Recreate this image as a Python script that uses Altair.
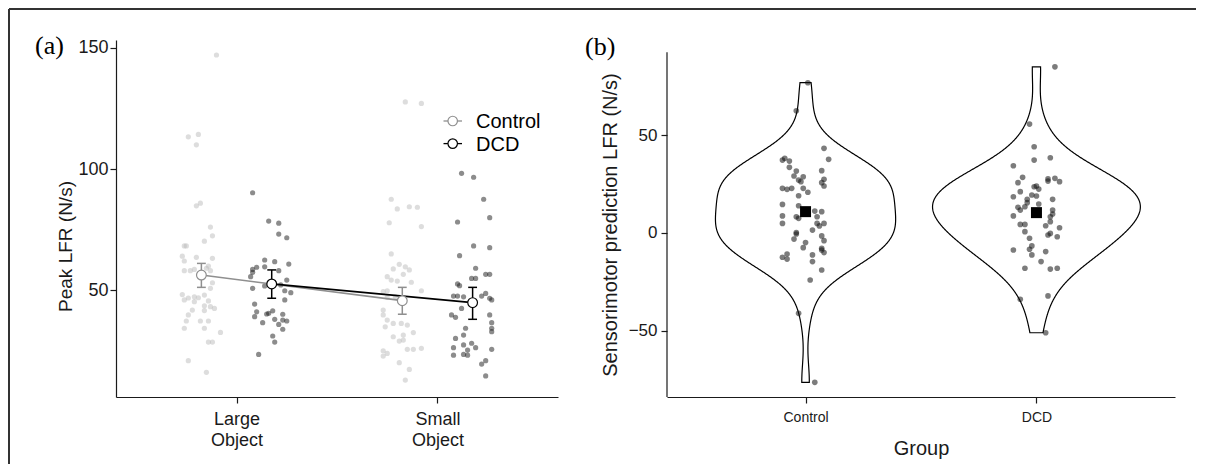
import altair as alt
import pandas as pd

FONT = "Liberation Sans"
AXC = "#1a1a1a"

# ---------------- Panel (a): Peak LFR by object size ----------------
groups = ["Control", "DCD"]
conditions = [1, 2]  # 1 = Large Object, 2 = Small Object

ctrl_large_jit = [-0.10, -0.24, -0.19, -0.20, -0.20, -0.18, -0.13, -0.12, -0.16, -0.26, -0.25, -0.27, -0.20, -0.26, -0.12,
                  -0.14, -0.15, -0.13, -0.26, -0.23, -0.21, -0.12, -0.13, -0.27, -0.24, -0.26, -0.21, -0.19, -0.16, -0.14,
                  -0.21, -0.16, -0.13, -0.11, -0.22, -0.16, -0.24, -0.25, -0.18, -0.14, -0.26, -0.16, -0.08, -0.14, -0.12,
                  -0.24, -0.15]
ctrl_large_val = [147.1, 113.3, 114.3, 110.0, 84.8, 85.9, 76.0, 72.4, 70.2, 68.2, 68.2, 64.0, 63.5, 62.0, 63.1,
                  59.9, 59.0, 58.0, 58.0, 58.0, 58.5, 53.0, 50.7, 48.1, 46.7, 45.9, 47.2, 46.8, 47.9, 45.5,
                  45.2, 43.5, 43.1, 42.4, 41.7, 41.5, 39.7, 37.2, 37.2, 37.2, 34.2, 34.2, 32.5, 28.5, 28.5,
                  20.8, 16.0]

dcd_large_jit = [0.08, 0.16, 0.21, 0.21, 0.25, 0.14, 0.19, 0.26, 0.10, 0.08, 0.08, 0.07, 0.14, 0.21, 0.08,
                 0.14, 0.25, 0.22, 0.27, 0.24, 0.09, 0.24, 0.10, 0.09, 0.16, 0.18, 0.15, 0.23, 0.19, 0.23,
                 0.25, 0.21, 0.13, 0.23, 0.18, 0.19, 0.11]
dcd_large_val = [90.2, 78.5, 77.6, 73.1, 71.6, 62.4, 61.7, 60.7, 59.4, 58.5, 57.3, 55.5, 59.6, 58.0, 50.7,
                 51.7, 54.1, 52.1, 48.9, 49.7, 44.2, 45.9, 41.0, 39.0, 40.4, 41.4, 40.1, 40.0, 37.9, 37.6,
                 37.2, 35.8, 36.5, 33.8, 31.0, 28.5, 23.4]

ctrl_small_jit = [-0.16, -0.08, -0.23, -0.20, -0.14, -0.10, -0.24, -0.08, -0.23, -0.19, -0.16, -0.22, -0.14, -0.17, -0.25,
                  -0.23, -0.13, -0.20, -0.27, -0.25, -0.08, -0.25, -0.21, -0.27, -0.27, -0.25, -0.18, -0.15, -0.22, -0.26,
                  -0.12, -0.17, -0.22, -0.19, -0.17, -0.15, -0.12, -0.08, -0.27, -0.25, -0.27, -0.19, -0.14, -0.16]
ctrl_small_val = [127.7, 127.1, 87.5, 83.5, 84.4, 84.2, 77.8, 76.2, 64.9, 60.6, 59.6, 58.7, 58.3, 56.5, 55.5,
                  54.1, 53.2, 53.7, 49.3, 49.7, 49.7, 47.0, 47.2, 41.7, 39.7, 37.6, 36.2, 35.5, 36.2, 34.8,
                  32.4, 31.4, 30.7, 28.9, 29.3, 25.5, 25.5, 25.9, 24.9, 23.8, 22.7, 20.0, 17.2, 12.8]

dcd_small_jit = [0.12, 0.18, 0.23, 0.10, 0.26, 0.18, 0.26, 0.11, 0.19, 0.17, 0.19, 0.24, 0.26, 0.10, 0.11,
                 0.08, 0.10, 0.13, 0.22, 0.24, 0.26, 0.27, 0.12, 0.07, 0.09, 0.26, 0.27, 0.27, 0.27, 0.14,
                 0.13, 0.09, 0.17, 0.08, 0.13, 0.15, 0.19, 0.15, 0.13, 0.08, 0.27, 0.24, 0.22, 0.24]
dcd_small_val = [98.2, 96.6, 87.5, 78.1, 79.9, 68.2, 67.5, 64.2, 59.0, 54.8, 54.8, 56.5, 56.5, 52.5, 51.8,
                 47.5, 47.5, 47.2, 47.5, 48.6, 46.6, 45.9, 42.4, 39.7, 38.7, 39.7, 36.5, 34.2, 32.8, 34.2,
                 31.4, 30.0, 28.0, 26.2, 27.3, 25.2, 26.2, 23.1, 23.4, 23.1, 25.5, 20.8, 19.4, 14.5]

mean_group = ["Control", "DCD", "Control", "DCD"]
mean_cond = [1, 1, 2, 2]
mean_val = [56.2, 52.5, 45.6, 44.8]
ci_lo = [51.1, 46.6, 40.0, 37.9]
ci_hi = [61.0, 58.3, 51.1, 51.1]

# ---------------- Panel (b): sensorimotor prediction ----------------
b_ctrl_jit = [0.01, -0.04, 0.08, 0.10, -0.10, -0.09, -0.07, -0.07, -0.04, 0.07, -0.05, -0.01, -0.03, -0.02, 0.08,
              0.07, 0.08, -0.10, -0.08, -0.06, -0.01, 0.01, -0.03, -0.10, -0.03, -0.10, -0.10, -0.04, -0.03, 0.04,
              0.05, 0.07, 0.05, 0.08, 0.03, 0.06, -0.04, -0.04, 0.07, 0.08, -0.05, 0.00, -0.01, 0.07, 0.08,
              0.07, -0.10, -0.08, -0.08, 0.03, 0.03, 0.07, 0.02, -0.03, 0.04]
b_ctrl_val = [76.7, 62.4, 43.2, 37.6, 37.2, 38.1, 36.7, 33.5, 31.6, 31.8, 29.1, 28.7, 27.0, 26.2, 27.4,
              25.7, 24.0, 22.8, 22.3, 22.8, 22.8, 20.8, 19.0, 14.6, 13.9, 8.7, 4.9, 8.3, 7.5, 11.2,
              8.3, 10.9, 4.9, 4.9, 1.5, 3.6, 0.2, -0.5, -1.5, -3.9, -3.1, -4.9, -7.5, -7.8, -10.0,
              -8.7, -12.4, -10.7, -13.3, -11.2, -14.6, -18.9, -24.0, -41.0, -76.2]

b_dcd_jit = [0.08, -0.03, -0.01, -0.01, 0.06, -0.10, -0.06, -0.08, 0.05, 0.05, 0.08, 0.10, -0.01, 0.00, 0.01,
             -0.07, -0.10, -0.02, 0.00, -0.04, 0.07, 0.01, -0.04, -0.08, -0.07, -0.05, 0.07, 0.07, 0.06, -0.10,
             -0.07, -0.05, 0.06, 0.04, 0.10, -0.05, 0.06, 0.05, 0.09, -0.03, -0.02, -0.03, -0.02, -0.10, 0.04,
             0.02, -0.05, 0.06, 0.09, -0.07, 0.05, 0.04]
b_dcd_val = [84.8, 55.6, 44.0, 37.2, 38.4, 34.3, 28.4, 25.7, 27.6, 26.5, 27.9, 26.2, 23.6, 24.0, 22.4,
             21.1, 18.5, 19.4, 18.9, 17.2, 17.2, 14.8, 15.5, 13.1, 11.7, 13.4, 11.7, 9.7, 8.3, 8.7,
             4.4, 4.4, 5.8, 3.7, 2.7, 0.7, -0.2, -1.0, -1.9, -2.7, -6.6, -8.3, -11.2, -8.7, -9.5,
             -14.6, -18.0, -18.4, -18.0, -33.8, -32.1, -50.9]

b_mean_group = ["Control", "DCD"]
b_mean_val = [10.9, 10.4]

# ---------------- tables ----------------
rows = []
for g, c, js, vs in [("Control", 1, ctrl_large_jit, ctrl_large_val), ("DCD", 1, dcd_large_jit, dcd_large_val),
                     ("Control", 2, ctrl_small_jit, ctrl_small_val), ("DCD", 2, dcd_small_jit, dcd_small_val)]:
    for j, v in zip(js, vs):
        rows.append({"pg": g, "cond": c, "jit": j, "val": v})
pa_pts = pd.DataFrame(rows)
pa_means = pd.DataFrame({"grp": mean_group, "cond": mean_cond, "val": mean_val, "lo": ci_lo, "hi": ci_hi})
leg_df = pd.DataFrame({"grp": groups})

rows = []
for g, gx, js, vs in [("Control", 1, b_ctrl_jit, b_ctrl_val), ("DCD", 2, b_dcd_jit, b_dcd_val)]:
    for j, v in zip(js, vs):
        rows.append({"grp": g, "gx": gx, "jit": j, "val": v})
pb_pts = pd.DataFrame(rows)
pb_means = pd.DataFrame({"grp": b_mean_group, "gx": [1, 2], "val": b_mean_val})
one = pd.DataFrame({"k": [0]})

# ---------------- panel (a) ----------------
xs_a = alt.Scale(domain=[0.4, 2.6], nice=False, zero=False)
ys_a = alt.Scale(domain=[5.8, 153.3], nice=False, zero=False)
x_axis_a = alt.Axis(values=[1, 2], grid=False, title=None, tickSize=6, labelPadding=7, labelFontSize=18,
                    labelLineHeight=21.5,
                    labelExpr="datum.value == 1 ? ['Large', 'Object'] : ['Small', 'Object']")
y_axis_a = alt.Axis(values=[50, 100, 150], grid=False, tickSize=6, labelPadding=2, labelFontSize=18,
                    titleFontSize=19, titlePadding=2, titleY=206)
stroke_scale = alt.Scale(domain=groups, range=["#8f8f8f", "#000000"])
stroke_enc = alt.Stroke("grp:N", scale=stroke_scale, legend=None)

pts_a = alt.Chart(pa_pts).transform_calculate(xp="datum.cond + datum.jit").mark_circle(
    size=27, opacity=0.5).encode(
    x=alt.X("xp:Q", scale=xs_a, axis=x_axis_a),
    y=alt.Y("val:Q", scale=ys_a, axis=y_axis_a, title="Peak LFR (N/s)"),
    fill=alt.Fill("pg:N", scale=alt.Scale(domain=groups, range=["#bbbbbb", "#1a1a1a"]), legend=None),
)

mbase = alt.Chart(pa_means).transform_calculate(
    xm="datum.cond + (datum.grp == 'Control' ? -0.175 : 0.175)",
    xl="datum.cond + (datum.grp == 'Control' ? -0.175 : 0.175) - 0.022",
    xr="datum.cond + (datum.grp == 'Control' ? -0.175 : 0.175) + 0.022",
)
lines_a = mbase.mark_line(strokeWidth=1.7).encode(x="xm:Q", y="val:Q", stroke=stroke_enc, detail="grp:N")
err_a = mbase.mark_rule(strokeWidth=1.5).encode(x="xm:Q", y="lo:Q", y2="hi:Q", stroke=stroke_enc)
caphi_a = mbase.mark_rule(strokeWidth=1.5).encode(x="xl:Q", x2="xr:Q", y="hi:Q", stroke=stroke_enc)
caplo_a = mbase.mark_rule(strokeWidth=1.5).encode(x="xl:Q", x2="xr:Q", y="lo:Q", stroke=stroke_enc)
mpts_a = mbase.mark_circle(size=95, fill="white", opacity=1, strokeWidth=1.2).encode(
    x="xm:Q", y="val:Q", stroke=stroke_enc)

# legend (line + open circle + label), one row per group
legend_layers = []
for i, g in enumerate(groups):
    yc = 81 + i * 22.6
    ldf = alt.Chart(leg_df).transform_filter(alt.datum.grp == g)
    legend_layers += [
        ldf.mark_rule(strokeWidth=1.3).encode(x=alt.value(327.5), x2=alt.value(332), y=alt.value(yc), stroke=stroke_enc),
        ldf.mark_rule(strokeWidth=1.3).encode(x=alt.value(341.5), x2=alt.value(346), y=alt.value(yc), stroke=stroke_enc),
        ldf.mark_circle(size=90, fill="white", opacity=1, strokeWidth=1.2).encode(
            x=alt.value(336.7), y=alt.value(yc), stroke=stroke_enc),
        ldf.mark_text(align="left", baseline="middle", font=FONT, fontSize=20, color="black").encode(
            x=alt.value(360), y=alt.value(yc + 1), text="grp:N"),
    ]

frame_top = alt.Chart(one).mark_rule(color="#333333", strokeWidth=2).encode(
    x=alt.value(-107), x2=alt.value(1080), y=alt.value(-31))
frame_left = alt.Chart(one).mark_rule(color="#333333", strokeWidth=2).encode(
    x=alt.value(-107), y=alt.value(-31), y2=alt.value(424))
lab_a = alt.Chart(one).mark_text(text="(a)", font="Liberation Serif", fontSize=26, align="left",
                                 baseline="alphabetic", color="black").encode(x=alt.value(-81), y=alt.value(14))

panel_a = alt.layer(pts_a, lines_a, err_a, caphi_a, caplo_a, mpts_a, *legend_layers,
                    frame_top, frame_left, lab_a).properties(width=442, height=357)

# ---------------- panel (b) ----------------
xs_b = alt.Scale(domain=[0.4, 2.6], nice=False, zero=False)
ys_b = alt.Scale(domain=[-83.7, 98.5], nice=False, zero=False)
x_axis_b = alt.Axis(values=[1, 2], grid=False, tickSize=6, labelPadding=7, labelFontSize=14,
                    titleFontSize=20, titlePadding=14,
                    labelExpr="datum.value == 1 ? 'Control' : 'DCD'")
y_axis_b = alt.Axis(values=[-50, 0, 50], grid=False, domain=False, tickSize=6, labelPadding=4, labelFontSize=17,
                    titleFontSize=20, titlePadding=8, titleY=184.5)

lo_all = min(b_ctrl_val + b_dcd_val)
hi_all = max(b_ctrl_val + b_dcd_val)

violin = alt.Chart(pb_pts).transform_joinaggregate(
    vmin="min(val)", vmax="max(val)", groupby=["grp", "gx"]
).transform_density(
    "val", groupby=["grp", "gx", "vmin", "vmax"], as_=["val", "density"], extent=[lo_all, hi_all],
    steps=700, bandwidth=11.5
).transform_filter(
    "datum.val >= datum.vmin - 0.05 && datum.val <= datum.vmax + 0.05"
).transform_joinaggregate(
    dmax="max(density)"
).transform_calculate(
    xl="datum.gx - datum.density / datum.dmax * 0.45",
    xr="datum.gx + datum.density / datum.dmax * 0.45",
).mark_area(orient="horizontal", fill="white", stroke="black", strokeWidth=1.2).encode(
    y=alt.Y("val:Q", scale=ys_b, axis=y_axis_b, title="Sensorimotor prediction LFR (N/s)"),
    x=alt.X("xl:Q", scale=xs_b, axis=x_axis_b, title="Group"),
    x2="xr:Q",
    detail="grp:N",
)

yline_b = alt.Chart(one).mark_rule(color=AXC, strokeWidth=1.2).encode(
    x=alt.value(0), y=alt.datum(-83.7), y2=alt.datum(92.3))

pts_b = alt.Chart(pb_pts).transform_calculate(xp="datum.gx + datum.jit").mark_circle(
    size=32, color="#111111", opacity=0.55).encode(x="xp:Q", y="val:Q")
means_b = alt.Chart(pb_means).mark_square(size=121, color="black", opacity=1).encode(x="gx:Q", y="val:Q")
lab_b = alt.Chart(one).mark_text(text="(b)", font="Liberation Serif", fontSize=26, align="left",
                                 baseline="alphabetic", color="black").encode(x=alt.value(-82), y=alt.value(15))

panel_b = alt.layer(violin, yline_b, pts_b, means_b, lab_b).properties(width=508, height=357)

chart = alt.hconcat(panel_a, panel_b, spacing=109, bounds="flush").properties(
    padding=0
).configure_view(stroke=None).configure_axis(
    domainColor=AXC, domainWidth=1.2, tickColor=AXC, tickWidth=1.2,
    labelColor=AXC, titleColor=AXC, labelFont=FONT, titleFont=FONT, titleFontWeight="normal",
)

chart.save("out.html", embed_options={"renderer": "svg", "actions": False})
